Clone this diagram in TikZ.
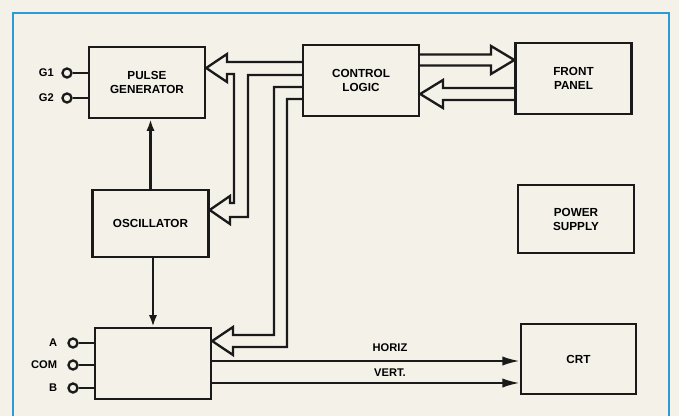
\documentclass[tikz,border=0pt]{standalone}
\usepackage{fontspec}
\setmainfont{Liberation Sans}
\usetikzlibrary{arrows.meta,positioning,calc}
\definecolor{paperCream}{HTML}{F4F2E8}
\definecolor{frameBlue}{HTML}{2B9BD8}
\definecolor{inkBlack}{HTML}{1A1A1A}

\begin{document}
\begin{tikzpicture}[x=0.03cm,y=-0.03cm,font=\fontsize{10}{12}\selectfont\bfseries,
  blk/.style={draw=inkBlack,line width=2pt,minimum width=3.48cm,minimum height=2.13cm,align=center,inner sep=2pt},
  term/.style={circle,draw=inkBlack,line width=2pt,minimum size=0.27cm,inner sep=0pt},
  lbl/.style={inner sep=0pt,font=\fontsize{9.5}{11}\selectfont\bfseries},
  wire/.style={draw=inkBlack,line width=2pt},
  bus/.style={wire,line join=miter},
  sig/.style={wire,-{Latex[length=10pt,width=7pt]}},
  trace/.style={wire,-{Latex[length=15pt,width=8pt]}}]
\fill[paperCream] (0,0) rectangle (679,416);
\useasboundingbox (0,0) rectangle (679,416);
% --- frame ---
\draw[frameBlue,line width=2.5pt] (13,416) -- (13,13) -- (669,13) -- (669,416);

% --- blocks ---
\node[blk] (pg) at (147,82.5) {PULSE\\GENERATOR};
\node[blk] (ctl) at (361,80.5) {CONTROL\\LOGIC};
\node[blk] (fp) at (573.5,78.5) {FRONT\\PANEL};
\node[blk,minimum height=2.04cm] (ps) at (576,219) {POWER\\SUPPLY};
\node[blk,minimum height=2.01cm] (osc) at (150.5,223.5) {OSCILLATOR};
\node[blk] (inp) at (153,363.5) {};
\node[blk,minimum width=3.45cm,minimum height=2.1cm] (crt) at (578.5,359) {CRT};

% --- terminals ---
\node[term] (g1) at (67,73) {};
\node[term] (g2) at (67,98) {};
\node[term] (ta) at (73,343) {};
\node[term] (tcom) at (73,365) {};
\node[term] (tb) at (73,388) {};
\node[lbl,left=0.22cm of g1] (g1l) {G1};
\node[lbl,left=0.22cm of g2] (g2l) {G2};
\node[lbl,left=0.3cm of ta] (tal) {A};
\node[lbl,left=0.3cm of tcom] (tcoml) {COM};
\node[lbl,left=0.3cm of tb] (tbl) {B};
\foreach \t/\b in {g1/pg,g2/pg,ta/inp,tcom/inp,tb/inp}
  \draw[wire] (\t) -- (\t -| \b.west);

% --- signal arrows ---
\draw[sig] (osc.north) -- (osc.north |- pg.south);
\draw[sig] (inp.north |- osc.south) -- (inp.north);
\draw[trace] (inp.east |- 0,361) -- (crt.west |- 0,361);
\draw[trace] (inp.east |- 0,383) -- (crt.west |- 0,383);
\node[lbl] (hz) at (390,348) {HORIZ};
\node[lbl] (vt) at (390,373) {VERT.};

% --- buses ---
\draw[bus] (ctl.east |- 0,54.5) -- (491,54.5) -- (491,46) -- (fp.west |- 0,60)
  -- (491,74) -- (491,65.5) -- (ctl.east |- 0,65.5);
\draw[bus] (fp.west |- 0,88) -- (443,88) -- (443,80) -- (ctl.east |- 0,94)
  -- (443,108) -- (443,100) -- (fp.west |- 0,100);
\draw[bus] (ctl.west |- 0,62) -- (227,62) -- (227,54) -- (pg.east |- 0,68)
  -- (227,82) -- (227,74) -- (234,74) -- (234,203) -- (230,203) -- (230,196)
  -- (osc.east |- 0,210) -- (230,224) -- (230,217) -- (248,217) -- (248,75)
  -- (ctl.west |- 0,75);
\draw[bus] (ctl.west |- 0,87) -- (274,87) -- (274,335) -- (233,335) -- (233,327)
  -- (inp.east |- 0,341) -- (233,355) -- (233,347) -- (287,347) -- (287,99)
  -- (ctl.west |- 0,99);
\end{tikzpicture}
\end{document}
